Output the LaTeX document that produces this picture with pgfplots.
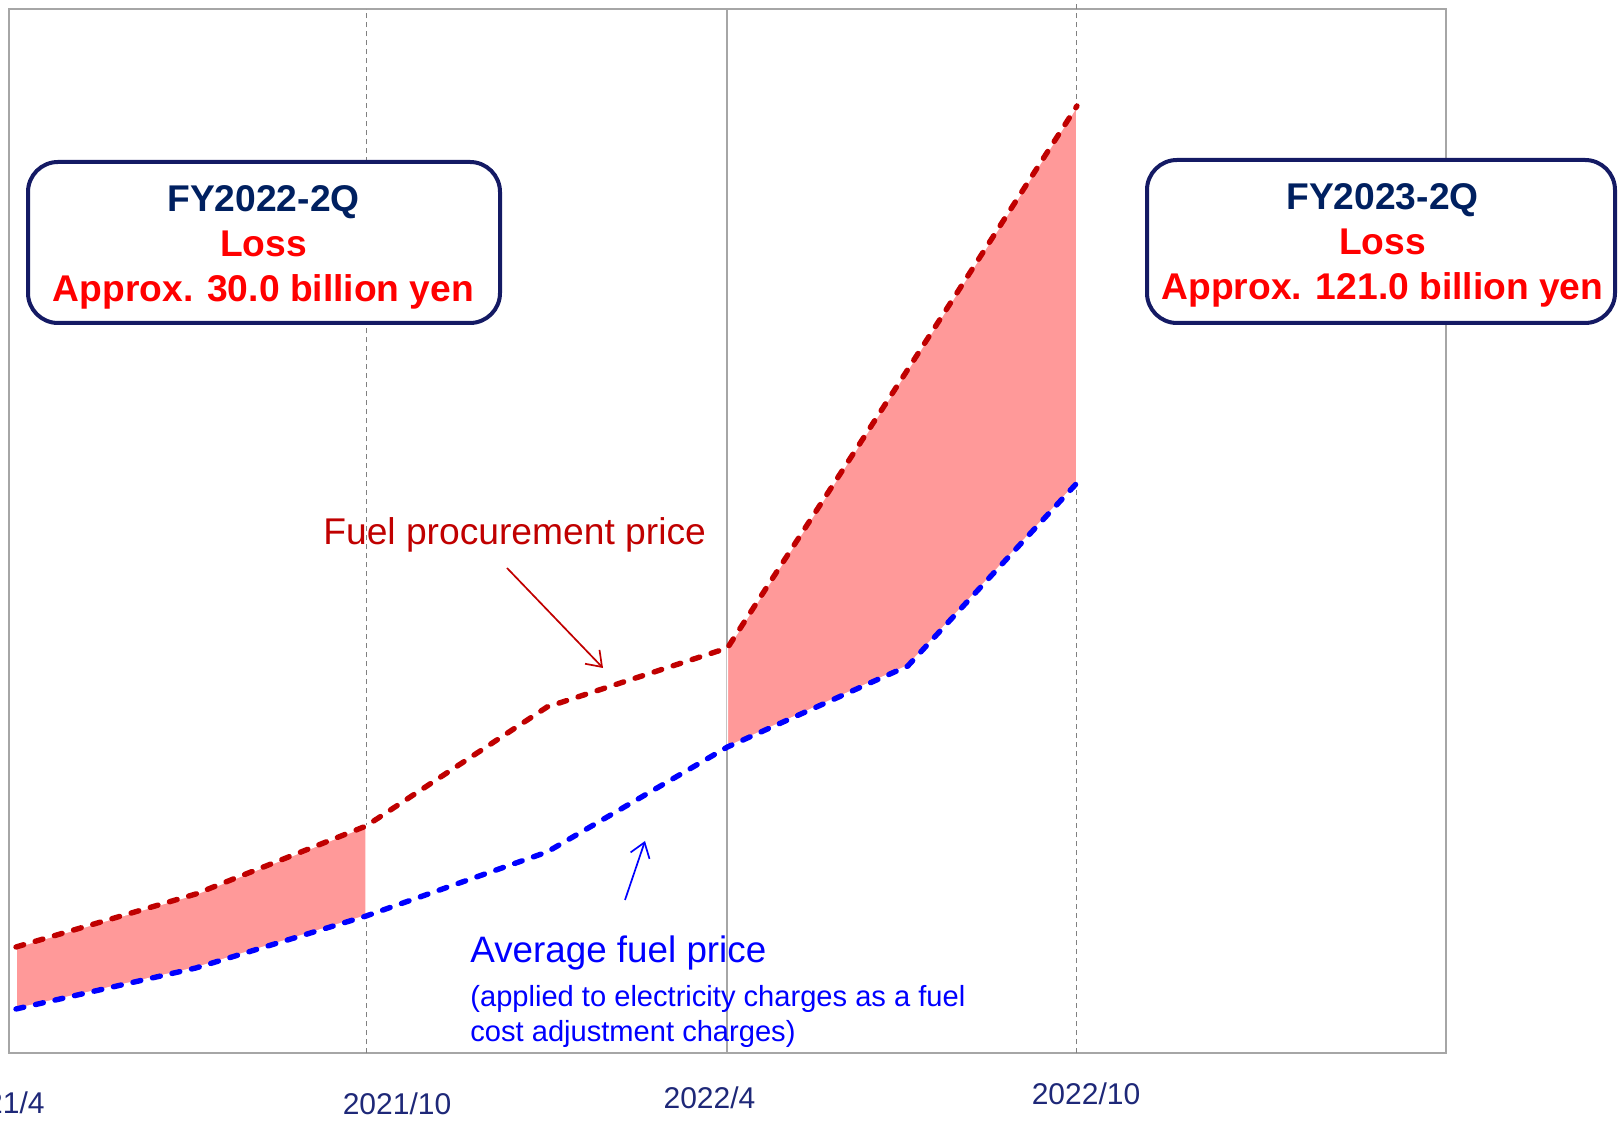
\documentclass[border=0pt]{standalone}
\usepackage{fontspec}
\setmainfont{Liberation Sans}
\usepackage{graphicx}
\usepackage{pgfplots}
\pgfplotsset{compat=1.18}
\usetikzlibrary{arrows.meta}
\definecolor{darkred}{RGB}{192,0,0}
\definecolor{pureblue}{RGB}{0,0,255}
\definecolor{lossfill}{RGB}{255,153,153}
\definecolor{navytext}{RGB}{0,32,96}
\definecolor{boxnavy}{RGB}{20,26,100}
\definecolor{ticknavy}{RGB}{30,40,120}
\definecolor{framegray}{RGB}{166,166,166}
\definecolor{linegray}{RGB}{128,128,128}
\begin{document}
\begin{tikzpicture}
\useasboundingbox (0,0) rectangle (809pt,562pt);
\begin{axis}[
  at={(4.5pt,35.25pt)}, anchor=south west,
  scale only axis, width=718.25pt, height=522pt,
  xmin=-0.1188, xmax=24.253, ymin=0, ymax=104.4,
  xtick=\empty, ytick=\empty,
  axis line style={draw=framegray, line width=1pt},
  clip=false]
% vertical separators (2021/10, 2022/4, 2022/10)
\addplot[linegray, line width=0.5pt, dash pattern=on 2.5pt off 2pt, mark=none] coordinates {(5.94,0)(5.94,104.4)};
\addplot[framegray, line width=1pt, mark=none] coordinates {(12.07,0)(12.07,104.4)};
\addplot[linegray, line width=0.5pt, dash pattern=on 2.5pt off 2pt, mark=none] coordinates {(18,0)(18,105.5)};
% loss areas
\addplot[fill=lossfill, draw=white, line width=0.8pt, mark=none] coordinates {(0,10.65)(3.05,15.95)(5.94,22.75)(5.94,13.75)(3.05,8.55)(0,4.45)} -- cycle;
\addplot[fill=lossfill, draw=white, line width=0.8pt, mark=none] coordinates {(12.07,40.55)(15.13,68.4)(18,94.75)(18,57.05)(15.13,38.75)(12.07,30.65)} -- cycle;
% fuel procurement price
\addplot[darkred, line width=2.7pt, line cap=round, dash pattern=on 4pt off 6pt, mark=none] coordinates {(0,10.65)(3.05,15.95)(5.94,22.75)(9.01,34.65)(12.07,40.55)(15.13,68.4)(18,94.75)};
% average fuel price
\addplot[pureblue, line width=2.7pt, line cap=round, dash pattern=on 4pt off 6pt, mark=none] coordinates {(0,4.45)(3.05,8.55)(5.94,13.75)(9.01,20.15)(12.07,30.65)(15.13,38.75)(18,57.05)};
\end{axis}
\begin{scope}[x=0.5pt, y=-0.5pt, yshift=562pt]
  % boxes
  \draw[boxnavy, line width=2pt, rounded corners=15pt, fill=white] (28,162) rectangle (500,323);
  \draw[boxnavy, line width=2pt, rounded corners=15pt, fill=white] (1147,160) rectangle (1615,323);
  \begin{scope}[every node/.style={inner sep=0pt, anchor=base, font=\fontsize{18.6pt}{22pt}\selectfont\bfseries}]
    \node[text=navytext] at (263.5,211.7) {FY2022-2Q};
    \node[text=red] at (263.5,256.7) {Loss};
    \node[text=red] at (263.5,301.7) {Approx. 30.0 billion yen};
    \node[text=navytext] at (1382.5,210) {FY2023-2Q};
    \node[text=red] at (1382.5,255) {Loss};
    \node[text=red] at (1382.5,300) {Approx. 121.0 billion yen};
  \end{scope}
  % annotations
  \node[inner sep=0pt, anchor=base west, text=darkred, font=\fontsize{18.6pt}{22pt}\selectfont] at (323,545) {Fuel procurement price};
  \draw[darkred, line width=0.85pt, -{Straight Barb[length=7pt, width=10pt]}] (507,568) -- (603,668);
  \node[inner sep=0pt, anchor=base west, text=pureblue, font=\fontsize{18.4pt}{22pt}\selectfont] at (470,963) {Average fuel price};
  \node[inner sep=0pt, anchor=base west, text=pureblue, font=\fontsize{14.55pt}{17pt}\selectfont] at (470,1007) {(applied to electricity charges as a fuel};
  \node[inner sep=0pt, anchor=base west, text=pureblue, font=\fontsize{14.55pt}{17pt}\selectfont] at (470,1042) {cost adjustment charges)};
  \draw[pureblue, line width=0.85pt, -{Straight Barb[length=7pt, width=10pt]}] (625,900) -- (645,841);
  % date labels
  \begin{scope}
    \clip (0,0) rectangle (1618,1124);
    \begin{scope}[every node/.style={inner sep=0pt, text=ticknavy, font=\fontsize{15pt}{18pt}\selectfont}]
      \node[anchor=east] at (45,1102.5) {2021/4};
      \node[anchor=center] at (397,1104) {2021/10};
      \node[anchor=center] at (709.5,1098) {2022/4};
      \node[anchor=center] at (1086,1094) {2022/10};
    \end{scope}
  \end{scope}
\end{scope}
\end{tikzpicture}
\end{document}
